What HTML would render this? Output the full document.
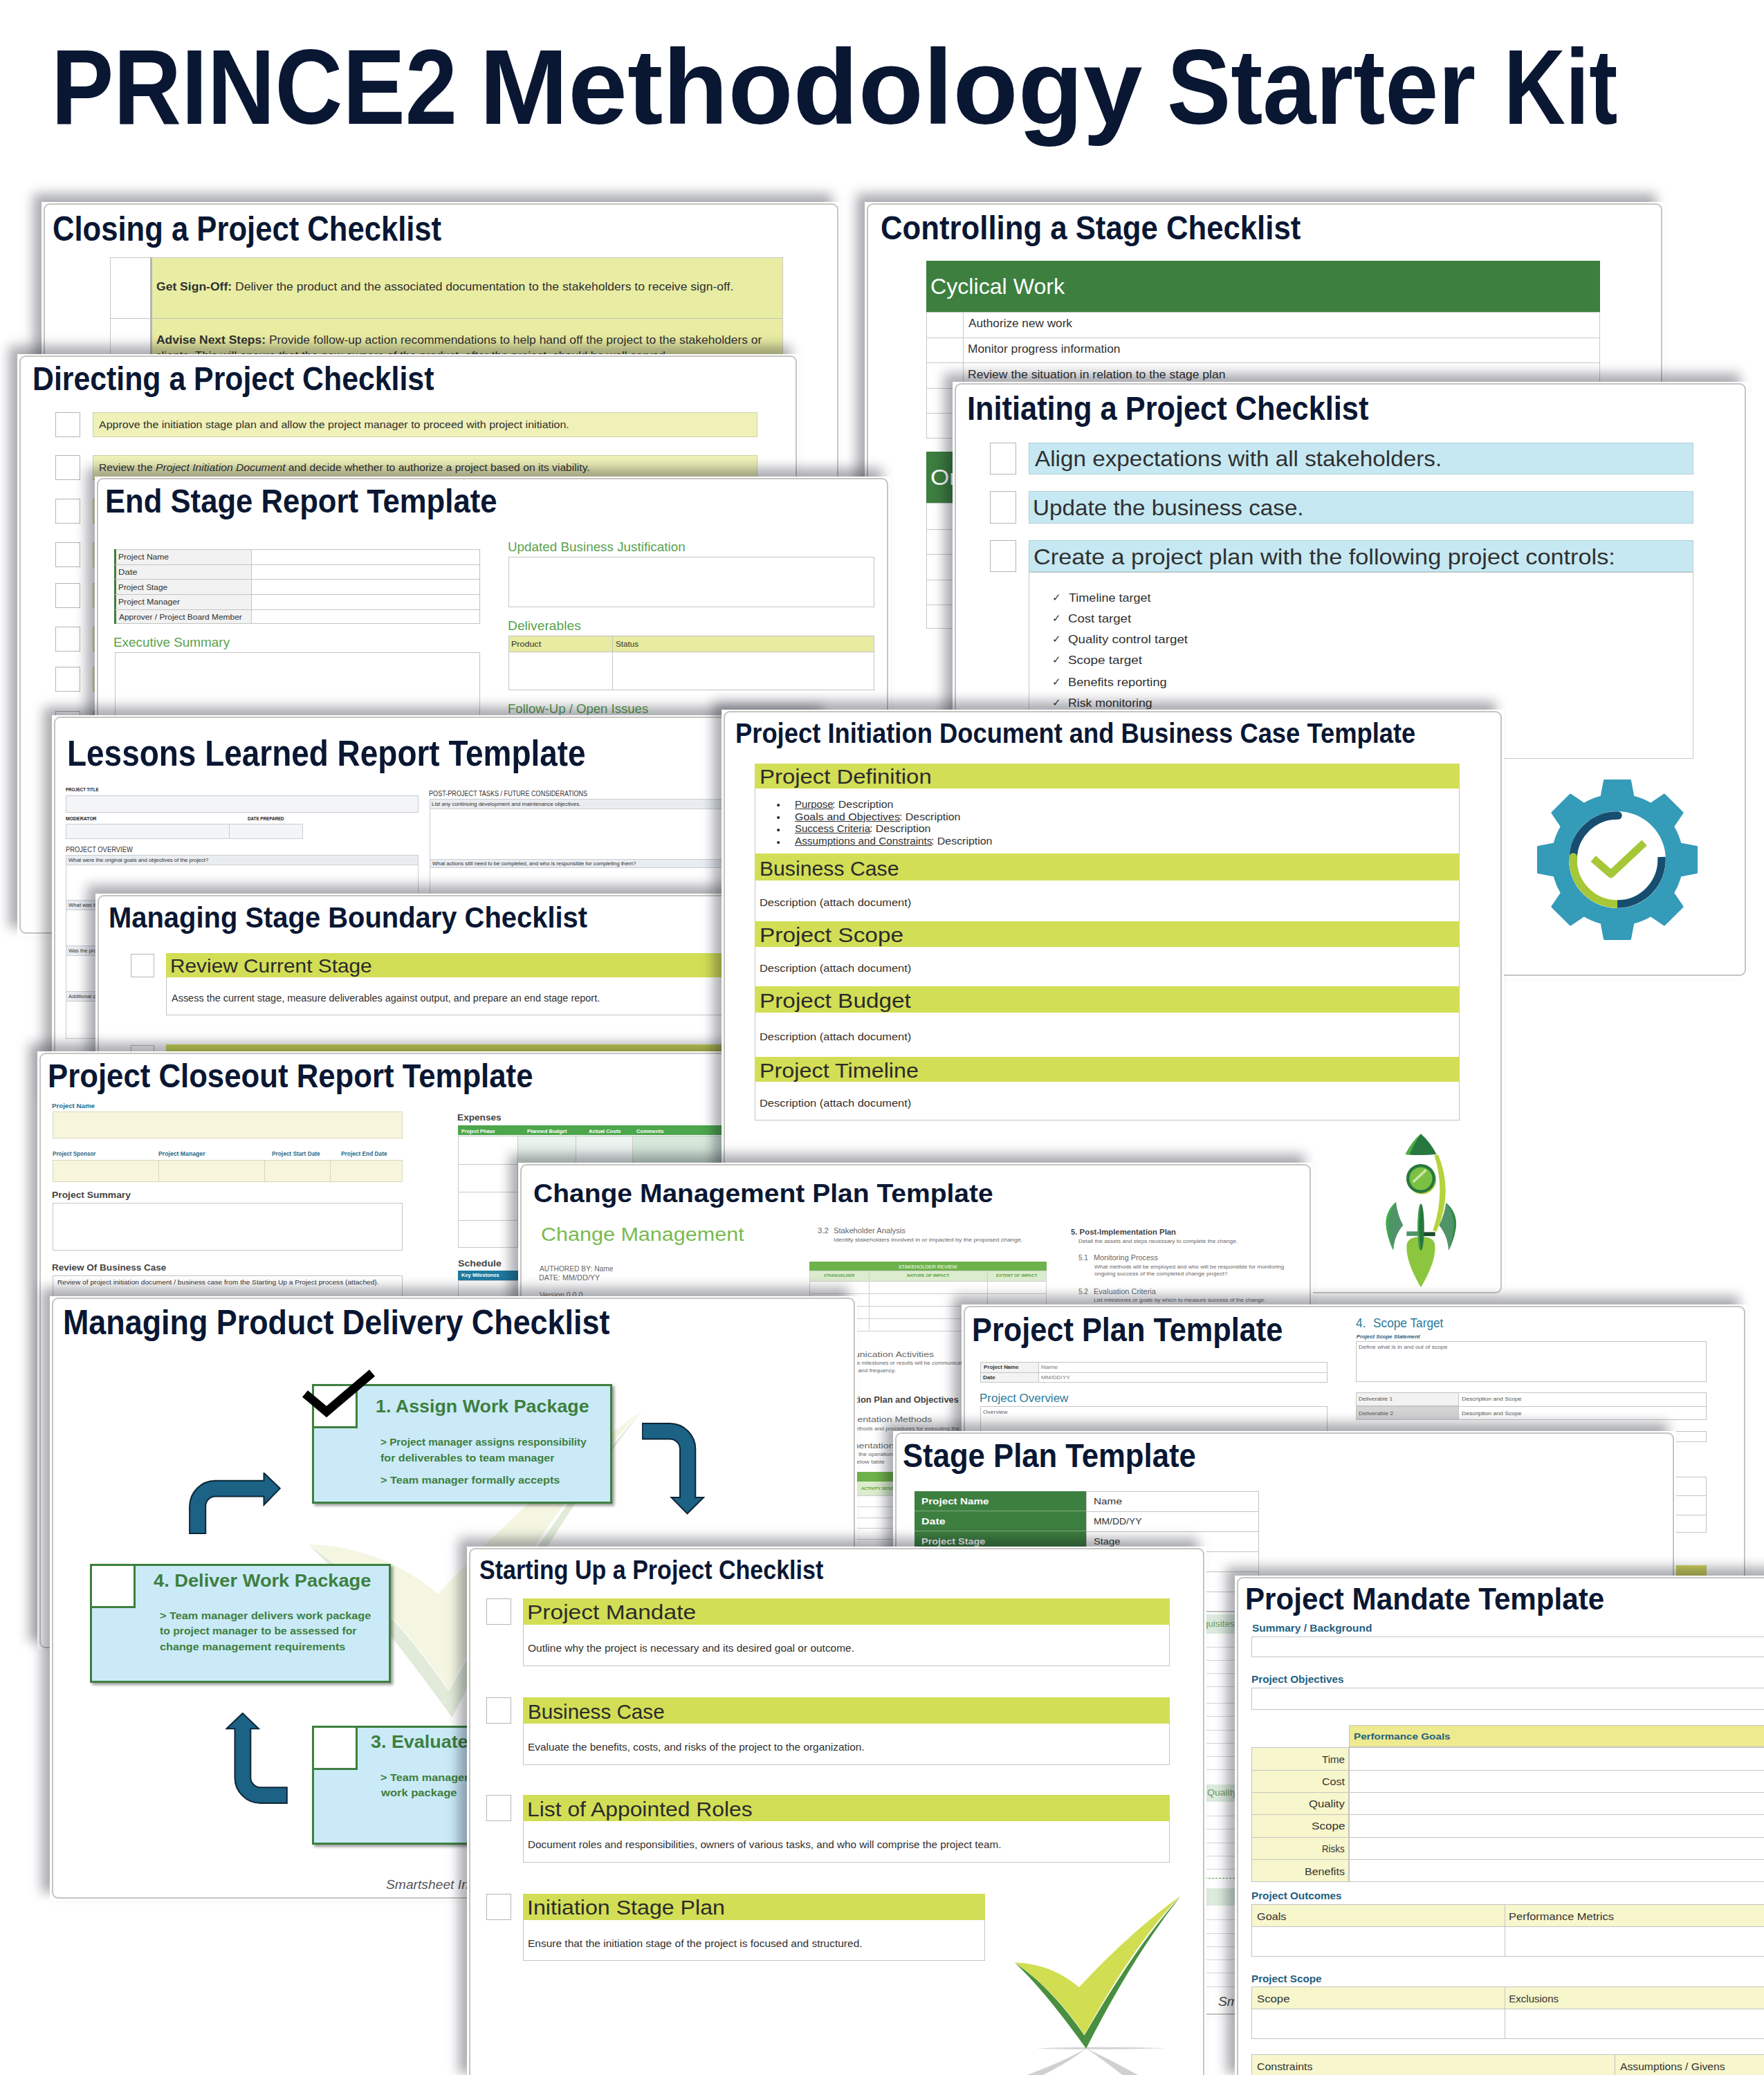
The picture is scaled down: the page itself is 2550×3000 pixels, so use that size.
<!DOCTYPE html><html><head><meta charset="utf-8"><title>PRINCE2 Methodology Starter Kit</title><style>
html,body{margin:0;padding:0;background:#fff}
body{width:2550px;height:3000px;font-family:"Liberation Sans",sans-serif}
#pg{position:relative;width:2550px;height:3000px;overflow:hidden;background:#fff}
.card{position:absolute;background:#fff;box-shadow:-12px -12px 16px rgba(12,14,28,.345)}
.card.ns{box-shadow:none}
.in{position:absolute;left:0;top:0;right:0;bottom:0;overflow:hidden}
.bd{position:absolute;left:3px;top:2px;right:3px;bottom:3px;border:2.6px solid #c6c4c0;border-radius:9px;pointer-events:none}
.r{position:absolute;box-sizing:border-box}
.t{position:absolute;white-space:nowrap;line-height:1;transform-origin:0 50%}
</style></head><body><div id="pg"><span class="t" style="top:48.6px;font-size:154.07px;color:#0a1733;font-weight:700;left:73.8px;transform:scaleX(0.8792);">PRINCE2</span>
<span class="t" style="top:48.6px;font-size:154.07px;color:#0a1733;font-weight:700;left:693.0px;">Methodology</span>
<span class="t" style="top:48.6px;font-size:154.07px;color:#0a1733;font-weight:700;left:1687.0px;transform:scaleX(0.8981);">Starter</span>
<span class="t" style="top:48.6px;font-size:154.07px;color:#0a1733;font-weight:700;left:2173.8px;transform:scaleX(0.8002);">Kit</span>
<div class="card " style="left:60px;top:292px;width:1155px;height:608px"><div class="in"><span class="t" style="top:14.0px;font-size:49.42px;color:#0a1733;font-weight:700;left:16.2px;transform:scaleX(0.8825);">Closing a Project Checklist</span>
<div class="r" style="left:99.0px;top:80.0px;width:59.0px;height:188.0px;background:#fff;border:1px solid #c6c6c6;"></div>
<div class="r" style="left:158.0px;top:80.0px;width:914.0px;height:188.0px;background:#e9eca3;border:1px solid #c6c6c6;"></div>
<div class="r" style="left:157.0px;top:80.0px;width:3.0px;height:188.0px;background:#b4b4b4;"></div>
<div class="r" style="left:99.0px;top:168.0px;width:973.0px;height:1.0px;background:#c2c2c2;"></div>
<span class="t" style="top:113.9px;font-size:16.20px;color:#303030;left:166.0px;transform:scaleX(1.0837);"><b>Get Sign-Off:</b> Deliver the product and the associated documentation to the stakeholders to receive sign-off.</span>
<span class="t" style="top:191.4px;font-size:16.20px;color:#303030;left:166.0px;transform:scaleX(1.0777);"><b>Advise Next Steps:</b> Provide follow-up action recommendations to help hand off the project to the stakeholders or</span>
<span class="t" style="top:213.9px;font-size:16.20px;color:#303030;left:165.3px;transform:scaleX(1.0451);">clients. This will ensure that the new owners of the product, after the project, should be well served.</span></div><div class="bd"></div></div>
<div class="card " style="left:1250px;top:292px;width:1155.5px;height:858px"><div class="in"><span class="t" style="top:12.6px;font-size:48.69px;color:#0a1733;font-weight:700;left:22.7px;transform:scaleX(0.8979);">Controlling a Stage Checklist</span>
<div class="r" style="left:89.0px;top:85.0px;width:974.0px;height:74.0px;background:#3d7f3f;"></div>
<span class="t" style="top:105.6px;font-size:31.98px;color:#fff;left:95.4px;transform:scaleX(1.0053);">Cyclical Work</span>
<div class="r" style="left:89.0px;top:159.0px;width:974.0px;height:182.5px;border:1px solid #c9c9c9;"></div>
<div class="r" style="left:89.0px;top:196.0px;width:974.0px;height:1.0px;background:#c9c9c9;"></div>
<div class="r" style="left:89.0px;top:232.0px;width:974.0px;height:1.0px;background:#c9c9c9;"></div>
<div class="r" style="left:89.0px;top:268.5px;width:974.0px;height:1.0px;background:#c9c9c9;"></div>
<div class="r" style="left:89.0px;top:305.0px;width:974.0px;height:1.0px;background:#c9c9c9;"></div>
<div class="r" style="left:142.0px;top:159.0px;width:1.0px;height:182.5px;background:#c9c9c9;"></div>
<span class="t" style="top:168.1px;font-size:16.60px;color:#303030;left:150.0px;transform:scaleX(1.0356);">Authorize new work</span>
<span class="t" style="top:205.1px;font-size:16.60px;color:#303030;left:148.6px;transform:scaleX(1.0438);">Monitor progress information</span>
<span class="t" style="top:241.6px;font-size:16.60px;color:#303030;left:148.6px;transform:scaleX(1.0569);">Review the situation in relation to the stage plan</span>
<span class="t" style="top:278.1px;font-size:16.60px;color:#303030;left:148.6px;transform:scaleX(1.0602);">Report highlights</span>
<span class="t" style="top:314.1px;font-size:16.60px;color:#303030;left:149.6px;transform:scaleX(1.0371);">Take corrective action</span>
<div class="r" style="left:89.0px;top:361.0px;width:974.0px;height:74.0px;background:#3d7f3f;"></div>
<span class="t" style="top:381.6px;font-size:31.98px;color:#fff;left:95.3px;transform:scaleX(1.1000);">Organized Work</span>
<div class="r" style="left:89.0px;top:435.0px;width:974.0px;height:182.0px;border:1px solid #c9c9c9;"></div>
<div class="r" style="left:89.0px;top:472.5px;width:974.0px;height:1.0px;background:#c9c9c9;"></div>
<div class="r" style="left:89.0px;top:509.0px;width:974.0px;height:1.0px;background:#c9c9c9;"></div>
<div class="r" style="left:89.0px;top:545.5px;width:974.0px;height:1.0px;background:#c9c9c9;"></div>
<div class="r" style="left:89.0px;top:581.5px;width:974.0px;height:1.0px;background:#c9c9c9;"></div>
<div class="r" style="left:142.0px;top:435.0px;width:1.0px;height:182.0px;background:#c9c9c9;"></div></div><div class="bd"></div></div>
<div class="card " style="left:25px;top:512px;width:1130px;height:840.7px"><div class="in"><span class="t" style="top:12.2px;font-size:47.97px;color:#0a1733;font-weight:700;left:21.6px;transform:scaleX(0.8923);">Directing a Project Checklist</span>
<div class="r" style="left:55.0px;top:84.0px;width:36.0px;height:36.0px;background:#fff;border:1px solid #b5b5b5;"></div>
<div class="r" style="left:109.0px;top:84.0px;width:961.0px;height:36.0px;background:#eff1b8;border:1px solid #cfd0a8;"></div>
<div class="r" style="left:55.0px;top:146.0px;width:36.0px;height:36.0px;background:#fff;border:1px solid #b5b5b5;"></div>
<div class="r" style="left:109.0px;top:146.0px;width:961.0px;height:36.0px;background:#eff1b8;border:1px solid #cfd0a8;"></div>
<div class="r" style="left:55.0px;top:209.0px;width:36.0px;height:36.0px;background:#fff;border:1px solid #b5b5b5;"></div>
<div class="r" style="left:109.0px;top:209.0px;width:961.0px;height:36.0px;background:#eff1b8;border:1px solid #cfd0a8;"></div>
<div class="r" style="left:55.0px;top:272.0px;width:36.0px;height:36.0px;background:#fff;border:1px solid #b5b5b5;"></div>
<div class="r" style="left:109.0px;top:272.0px;width:961.0px;height:36.0px;background:#eff1b8;border:1px solid #cfd0a8;"></div>
<div class="r" style="left:55.0px;top:331.0px;width:36.0px;height:36.0px;background:#fff;border:1px solid #b5b5b5;"></div>
<div class="r" style="left:109.0px;top:331.0px;width:961.0px;height:36.0px;background:#eff1b8;border:1px solid #cfd0a8;"></div>
<div class="r" style="left:55.0px;top:394.0px;width:36.0px;height:36.0px;background:#fff;border:1px solid #b5b5b5;"></div>
<div class="r" style="left:109.0px;top:394.0px;width:961.0px;height:36.0px;background:#eff1b8;border:1px solid #cfd0a8;"></div>
<div class="r" style="left:55.0px;top:452.0px;width:36.0px;height:36.0px;background:#fff;border:1px solid #b5b5b5;"></div>
<div class="r" style="left:109.0px;top:452.0px;width:961.0px;height:36.0px;background:#eff1b8;border:1px solid #cfd0a8;"></div>
<div class="r" style="left:55.0px;top:516.0px;width:36.0px;height:36.0px;background:#fff;border:1px solid #b5b5b5;"></div>
<div class="r" style="left:109.0px;top:516.0px;width:961.0px;height:36.0px;background:#eff1b8;border:1px solid #cfd0a8;"></div>
<span class="t" style="top:94.7px;font-size:14.60px;color:#303030;left:118.0px;transform:scaleX(1.0968);">Approve the initiation stage plan and allow the project manager to proceed with project initiation.</span>
<span class="t" style="top:157.1px;font-size:14.60px;color:#303030;left:118.0px;transform:scaleX(1.0752);">Review the <i>Project Initiation Document</i> and decide whether to authorize a project based on its viability.</span></div><div class="bd"></div></div>
<div class="card " style="left:1377px;top:551.5px;width:1150px;height:862.5px"><div class="in"><span class="t" style="top:15.3px;font-size:47.24px;color:#0a1733;font-weight:700;left:20.7px;transform:scaleX(0.9175);">Initiating a Project Checklist</span>
<div class="r" style="left:54.0px;top:88.5px;width:37.5px;height:46.0px;background:#fff;border:1px solid #b5b5b5;"></div>
<div class="r" style="left:110.0px;top:88.5px;width:961.0px;height:46.0px;background:#c5e8f2;border:1px solid #b3cfd6;"></div>
<div class="r" style="left:54.0px;top:158.5px;width:37.5px;height:47.0px;background:#fff;border:1px solid #b5b5b5;"></div>
<div class="r" style="left:110.0px;top:158.5px;width:961.0px;height:47.0px;background:#c5e8f2;border:1px solid #b3cfd6;"></div>
<div class="r" style="left:54.0px;top:229.5px;width:37.5px;height:46.0px;background:#fff;border:1px solid #b5b5b5;"></div>
<div class="r" style="left:110.0px;top:229.5px;width:961.0px;height:46.0px;background:#c5e8f2;border:1px solid #b3cfd6;"></div>
<span class="t" style="top:96.5px;font-size:31.69px;color:#303030;left:118.7px;transform:scaleX(1.0500);">Align expectations with all stakeholders.</span>
<span class="t" style="top:167.5px;font-size:31.69px;color:#303030;left:116.2px;transform:scaleX(1.0486);">Update the business case.</span>
<span class="t" style="top:238.4px;font-size:31.69px;color:#303030;left:117.1px;transform:scaleX(1.0826);">Create a project plan with the following project controls:</span>
<div class="r" style="left:110.0px;top:275.5px;width:961.0px;height:270.0px;border:1px solid #c9c9c9;"></div>
<span class="t" style="top:304.0px;font-size:15.00px;color:#303030;left:144.0px;">✓</span>
<span class="t" style="top:304.0px;font-size:17.00px;color:#303030;left:167.6px;transform:scaleX(1.0602);">Timeline target</span>
<span class="t" style="top:334.0px;font-size:15.00px;color:#303030;left:144.0px;">✓</span>
<span class="t" style="top:334.0px;font-size:17.00px;color:#303030;left:167.1px;transform:scaleX(1.0954);">Cost target</span>
<span class="t" style="top:364.0px;font-size:15.00px;color:#303030;left:144.0px;">✓</span>
<span class="t" style="top:364.0px;font-size:17.00px;color:#303030;left:167.1px;transform:scaleX(1.1031);">Quality control target</span>
<span class="t" style="top:394.5px;font-size:15.00px;color:#303030;left:144.0px;">✓</span>
<span class="t" style="top:394.5px;font-size:17.00px;color:#303030;left:167.1px;transform:scaleX(1.1099);">Scope target</span>
<span class="t" style="top:426.0px;font-size:15.00px;color:#303030;left:144.0px;">✓</span>
<span class="t" style="top:426.0px;font-size:17.00px;color:#303030;left:166.5px;transform:scaleX(1.0707);">Benefits reporting</span>
<span class="t" style="top:456.6px;font-size:15.00px;color:#303030;left:144.0px;">✓</span>
<span class="t" style="top:456.6px;font-size:17.00px;color:#303030;left:166.6px;transform:scaleX(1.0378);">Risk monitoring</span>
<svg class="r" style="left:831.0px;top:561.3px" width="260" height="260" viewBox="-130 -130 260 260"><path d="M-23.0 -91.0L-18.5 -114.5L18.5 -114.5L23.0 -91.0A92 92 0 0 1 48.1 -80.6L67.9 -94.0L94.0 -67.9L80.6 -48.1A92 92 0 0 1 91.0 -23.0L114.5 -18.5L114.5 18.5L91.0 23.0A92 92 0 0 1 80.6 48.1L94.0 67.9L67.9 94.0L48.1 80.6A92 92 0 0 1 23.0 91.0L18.5 114.5L-18.5 114.5L-23.0 91.0A92 92 0 0 1 -48.1 80.6L-67.9 94.0L-94.0 67.9L-80.6 48.1A92 92 0 0 1 -91.0 23.0L-114.5 18.5L-114.5 -18.5L-91.0 -23.0A92 92 0 0 1 -80.6 -48.1L-94.0 -67.9L-67.9 -94.0L-48.1 -80.6A92 92 0 0 1 -23.0 -91.0 Z" fill="#349bb8" stroke="#349bb8" stroke-width="3" stroke-linejoin="round"/><circle r="70" fill="#fff"/><path d="M1 -64A64 64 0 0 0 -64 0" fill="none" stroke="#174e70" stroke-width="11.5" stroke-linecap="round"/><path d="M0 64A64 64 0 0 0 63.9 -4" fill="none" stroke="#174e70" stroke-width="11.5"/><path d="M-63.9 -3A64 64 0 0 0 0 64" fill="none" stroke="#a6c737" stroke-width="11.5"/><circle cx="-63.8" cy="-4" r="5.75" fill="#a6c737"/><path d="M-34.8 -1.5L-9.4 20.7L39 -24.5" fill="none" stroke="#a6c737" stroke-width="11" stroke-linejoin="round"/></svg></div><div class="bd"></div></div>
<div class="card " style="left:137px;top:689px;width:1150px;height:511px"><div class="in"><span class="t" style="top:12.2px;font-size:47.97px;color:#0a1733;font-weight:700;left:15.1px;transform:scaleX(0.9095);">End Stage Report Template</span>
<div class="r" style="left:29.0px;top:105.0px;width:528.4px;height:108.2px;background:#fff;border:1px solid #c4c4c4;"></div>
<div class="r" style="left:29.0px;top:105.0px;width:198.0px;height:108.2px;background:#f1f2f1;border:1px solid #c4c4c4;"></div>
<div class="r" style="left:28.0px;top:105.0px;width:3.0px;height:108.2px;background:#3d7f3f;"></div>
<span class="t" style="top:110.4px;font-size:11.60px;color:#303030;left:34.4px;transform:scaleX(1.0406);">Project Name</span>
<div class="r" style="left:29.0px;top:126.6px;width:528.4px;height:1.0px;background:#c4c4c4;"></div>
<span class="t" style="top:132.0px;font-size:11.60px;color:#303030;left:34.3px;transform:scaleX(1.1286);">Date</span>
<div class="r" style="left:29.0px;top:148.3px;width:528.4px;height:1.0px;background:#c4c4c4;"></div>
<span class="t" style="top:153.6px;font-size:11.60px;color:#303030;left:34.4px;transform:scaleX(1.0209);">Project Stage</span>
<div class="r" style="left:29.0px;top:169.9px;width:528.4px;height:1.0px;background:#c4c4c4;"></div>
<span class="t" style="top:175.3px;font-size:11.60px;color:#303030;left:34.4px;transform:scaleX(1.0480);">Project Manager</span>
<div class="r" style="left:29.0px;top:191.6px;width:528.4px;height:1.0px;background:#c4c4c4;"></div>
<span class="t" style="top:196.9px;font-size:11.60px;color:#303030;left:35.4px;transform:scaleX(1.0297);">Approver / Project Board Member</span>
<span class="t" style="top:229.6px;font-size:19.00px;color:#5aa24c;left:27.4px;transform:scaleX(0.9949);">Executive Summary</span>
<div class="r" style="left:29.0px;top:253.6px;width:528.4px;height:177.4px;border:1px solid #c4c4c4;"></div>
<span class="t" style="top:92.4px;font-size:19.00px;color:#5aa24c;left:597.1px;transform:scaleX(0.9919);">Updated Business Justification</span>
<div class="r" style="left:598.0px;top:115.7px;width:529.0px;height:72.9px;border:1px solid #c4c4c4;"></div>
<span class="t" style="top:206.4px;font-size:19.00px;color:#5aa24c;left:597.0px;transform:scaleX(1.0117);">Deliverables</span>
<div class="r" style="left:598.0px;top:230.4px;width:529.0px;height:79.0px;border:1px solid #c4c4c4;"></div>
<div class="r" style="left:598.0px;top:230.4px;width:529.0px;height:23.2px;background:#e8eba0;border:1px solid #c4c4c4;"></div>
<div class="r" style="left:747.8px;top:230.4px;width:1.0px;height:79.0px;background:#c4c4c4;"></div>
<span class="t" style="top:236.6px;font-size:10.80px;color:#303030;left:602.0px;transform:scaleX(1.1584);">Product</span>
<span class="t" style="top:236.6px;font-size:10.80px;color:#303030;left:752.5px;transform:scaleX(1.0761);">Status</span>
<span class="t" style="top:325.8px;font-size:19.00px;color:#5aa24c;left:597.1px;transform:scaleX(0.9767);">Follow-Up / Open Issues</span>
<div class="r" style="left:598.0px;top:351.0px;width:529.0px;height:80.0px;border:1px solid #c4c4c4;"></div></div><div class="bd"></div></div>
<div class="card " style="left:75px;top:1034px;width:1125px;height:566px"><div class="in"><span class="t" style="top:28.5px;font-size:52.33px;color:#0a1733;font-weight:700;left:21.9px;transform:scaleX(0.8779);">Lessons Learned Report Template</span>
<span class="t" style="top:105.1px;font-size:6.60px;color:#222;font-weight:700;left:20.0px;transform:scaleX(0.9281);">PROJECT TITLE</span>
<div class="r" style="left:20.0px;top:115.7px;width:510.0px;height:25.3px;background:#f3f5f7;border:1px solid #c9cdd2;"></div>
<span class="t" style="top:147.0px;font-size:6.60px;color:#222;font-weight:700;left:19.9px;transform:scaleX(1.0456);">MODERATOR</span>
<span class="t" style="top:147.0px;font-size:6.60px;color:#222;font-weight:700;left:283.2px;transform:scaleX(0.9493);">DATE PREPARED</span>
<div class="r" style="left:20.0px;top:157.0px;width:236.5px;height:21.7px;background:#f3f5f7;border:1px solid #c9cdd2;"></div>
<div class="r" style="left:255.5px;top:157.0px;width:107.5px;height:21.7px;background:#f3f5f7;border:1px solid #c9cdd2;"></div>
<span class="t" style="top:189.5px;font-size:10.00px;color:#333;left:19.6px;transform:scaleX(0.9400);">PROJECT OVERVIEW</span>
<div class="r" style="left:20.0px;top:201.7px;width:510.0px;height:266.3px;border:1px solid #c9cdd2;"></div>
<div class="r" style="left:20.0px;top:201.7px;width:510.0px;height:15.0px;background:#e9edf1;border:1px solid #c9cdd2;"></div>
<span class="t" style="top:206.0px;font-size:7.00px;color:#303030;left:24.0px;transform:scaleX(1.1158);">What were the original goals and objectives of the project?</span>
<div class="r" style="left:20.0px;top:267.0px;width:510.0px;height:15.0px;background:#e9edf1;border:1px solid #c9cdd2;"></div>
<span class="t" style="top:271.3px;font-size:7.00px;color:#303030;left:24.0px;transform:scaleX(1.1055);">What was the original criteria for project success?</span>
<div class="r" style="left:20.0px;top:333.0px;width:510.0px;height:15.0px;background:#e9edf1;border:1px solid #c9cdd2;"></div>
<span class="t" style="top:337.3px;font-size:7.00px;color:#303030;left:24.0px;transform:scaleX(1.0798);">Was the project completed according to the original expectations?</span>
<div class="r" style="left:20.0px;top:399.0px;width:510.0px;height:15.0px;background:#e9edf1;border:1px solid #c9cdd2;"></div>
<span class="t" style="top:403.3px;font-size:7.00px;color:#303030;left:24.0px;transform:scaleX(1.0817);">Additional comments</span>
<span class="t" style="top:108.5px;font-size:10.00px;color:#333;left:544.8px;transform:scaleX(0.9091);">POST-PROJECT TASKS / FUTURE CONSIDERATIONS</span>
<div class="r" style="left:545.5px;top:120.7px;width:509.5px;height:175.3px;border:1px solid #c9cdd2;"></div>
<div class="r" style="left:545.5px;top:120.7px;width:509.5px;height:14.9px;background:#e9edf1;border:1px solid #c9cdd2;"></div>
<span class="t" style="top:125.1px;font-size:7.00px;color:#303030;left:549.4px;transform:scaleX(1.1295);">List any continuing development and maintenance objectives.</span>
<div class="r" style="left:545.5px;top:207.5px;width:509.5px;height:13.5px;background:#e9edf1;border:1px solid #c9cdd2;"></div>
<span class="t" style="top:211.1px;font-size:7.00px;color:#303030;left:550.0px;transform:scaleX(1.1140);">What actions still need to be completed, and who is responsible for completing them?</span></div><div class="bd"></div></div>
<div class="card " style="left:137.5px;top:1292px;width:1062.5px;height:308px"><div class="in"><span class="t" style="top:13.9px;font-size:42.44px;color:#0a1733;font-weight:700;left:19.8px;transform:scaleX(0.9407);">Managing Stage Boundary Checklist</span>
<div class="r" style="left:51.5px;top:86.5px;width:33.6px;height:34.3px;background:#fff;border:1px solid #b5b5b5;"></div>
<div class="r" style="left:102.0px;top:86.0px;width:920.5px;height:89.7px;border:1px solid #c4c4c4;"></div>
<div class="r" style="left:102.0px;top:86.0px;width:920.5px;height:34.8px;background:#d2de55;"></div>
<span class="t" style="top:91.1px;font-size:28.05px;color:#2b2b2b;left:108.5px;transform:scaleX(1.0632);">Review Current Stage</span>
<span class="t" style="top:144.7px;font-size:13.80px;color:#303030;left:110.5px;transform:scaleX(1.0485);">Assess the current stage, measure deliverables against output, and prepare an end stage report.</span>
<div class="r" style="left:51.5px;top:218.5px;width:33.6px;height:34.5px;background:#fff;border:1px solid #b5b5b5;"></div>
<div class="r" style="left:102.0px;top:218.0px;width:920.5px;height:35.0px;background:#d2de55;"></div></div><div class="bd"></div></div>
<div class="card " style="left:53.5px;top:1519.5px;width:1146.5px;height:866.5px"><div class="in"><span class="t" style="top:12.7px;font-size:47.97px;color:#0a1733;font-weight:700;left:15.3px;transform:scaleX(0.9117);">Project Closeout Report Template</span>
<span class="t" style="top:75.9px;font-size:9.20px;color:#1f6b8c;font-weight:700;left:21.9px;transform:scaleX(1.0540);">Project Name</span>
<div class="r" style="left:22.0px;top:87.1px;width:506.5px;height:39.9px;background:#f7f6dc;border:1px solid #d8d7b8;"></div>
<span class="t" style="top:144.6px;font-size:8.40px;color:#1f6b8c;font-weight:700;left:22.0px;transform:scaleX(0.9659);">Project Sponsor</span>
<span class="t" style="top:144.6px;font-size:8.40px;color:#1f6b8c;font-weight:700;left:175.9px;transform:scaleX(1.0361);">Project Manager</span>
<span class="t" style="top:144.6px;font-size:8.40px;color:#1f6b8c;font-weight:700;left:339.9px;transform:scaleX(0.9908);">Project Start Date</span>
<span class="t" style="top:144.6px;font-size:8.40px;color:#1f6b8c;font-weight:700;left:439.9px;transform:scaleX(0.9944);">Project End Date</span>
<div class="r" style="left:22.0px;top:157.0px;width:506.5px;height:32.5px;background:#f7f6dc;border:1px solid #d8d7b8;"></div>
<div class="r" style="left:175.5px;top:157.0px;width:1.0px;height:32.5px;background:#d8d7b8;"></div>
<div class="r" style="left:328.5px;top:157.0px;width:1.0px;height:32.5px;background:#d8d7b8;"></div>
<div class="r" style="left:423.5px;top:157.0px;width:1.0px;height:32.5px;background:#d8d7b8;"></div>
<span class="t" style="top:201.7px;font-size:13.60px;color:#444;font-weight:700;left:21.6px;transform:scaleX(1.0190);">Project Summary</span>
<div class="r" style="left:22.0px;top:219.5px;width:506.5px;height:68.5px;background:#fff;border:1px solid #c4c4c4;"></div>
<span class="t" style="top:306.7px;font-size:13.60px;color:#444;font-weight:700;left:21.6px;transform:scaleX(0.9944);">Review Of Business Case</span>
<div class="r" style="left:22.0px;top:324.1px;width:506.5px;height:56.4px;background:#fff;border:1px solid #c4c4c4;"></div>
<span class="t" style="top:330.8px;font-size:9.30px;color:#333;left:29.7px;transform:scaleX(1.0924);">Review of project initiation document / business case from the Starting Up a Project process (attached).</span>
<span class="t" style="top:89.7px;font-size:13.60px;color:#444;font-weight:700;left:607.6px;">Expenses</span>
<div class="r" style="left:694.5px;top:122.5px;width:84.0px;height:162.0px;background:#eaf3ec;"></div>
<div class="r" style="left:778.5px;top:122.5px;width:82.0px;height:162.0px;background:#eef4f0;"></div>
<div class="r" style="left:860.5px;top:122.5px;width:186.0px;height:162.0px;background:#d6e9da;"></div>
<div class="r" style="left:608.5px;top:107.8px;width:438.0px;height:14.0px;background:#4ca64c;"></div>
<span class="t" style="top:112.1px;font-size:7.40px;color:#fff;font-weight:700;left:613.0px;transform:scaleX(0.9959);">Project Phase</span>
<span class="t" style="top:112.1px;font-size:7.40px;color:#fff;font-weight:700;left:708.0px;transform:scaleX(1.0226);">Planned Budget</span>
<span class="t" style="top:112.1px;font-size:7.40px;color:#fff;font-weight:700;left:797.3px;transform:scaleX(1.0281);">Actual Costs</span>
<span class="t" style="top:112.1px;font-size:7.40px;color:#fff;font-weight:700;left:866.2px;transform:scaleX(1.0363);">Comments</span>
<div class="r" style="left:608.5px;top:122.5px;width:438.0px;height:162.0px;border:1px solid #c9c9c9;"></div>
<div class="r" style="left:694.5px;top:122.5px;width:1.0px;height:162.0px;background:#c9c9c9;"></div>
<div class="r" style="left:778.5px;top:122.5px;width:1.0px;height:162.0px;background:#c9c9c9;"></div>
<div class="r" style="left:860.5px;top:122.5px;width:1.0px;height:162.0px;background:#c9c9c9;"></div>
<div class="r" style="left:608.5px;top:163.1px;width:438.0px;height:1.0px;background:#c9c9c9;"></div>
<div class="r" style="left:608.5px;top:203.7px;width:438.0px;height:1.0px;background:#c9c9c9;"></div>
<div class="r" style="left:608.5px;top:244.3px;width:438.0px;height:1.0px;background:#c9c9c9;"></div>
<span class="t" style="top:300.7px;font-size:13.60px;color:#444;font-weight:700;left:608.1px;transform:scaleX(1.0401);">Schedule</span>
<div class="r" style="left:608.5px;top:317.5px;width:438.0px;height:13.6px;background:#1f7aa0;"></div>
<span class="t" style="top:320.8px;font-size:7.40px;color:#fff;font-weight:700;left:613.0px;transform:scaleX(1.0174);">Key Milestones</span>
<div class="r" style="left:608.5px;top:331.1px;width:438.0px;height:49.4px;border:1px solid #c9c9c9;"></div></div><div class="bd"></div></div>
<div class="card " style="left:1042.5px;top:1025.5px;width:1131px;height:847.1px"><div class="in"><span class="t" style="top:14.4px;font-size:40.70px;color:#0a1733;font-weight:700;left:20.6px;transform:scaleX(0.8937);">Project Initiation Document and Business Case Template</span>
<div class="r" style="left:48.5px;top:78.2px;width:1019.0px;height:516.3px;border:1px solid #c4c4c4;"></div>
<div class="r" style="left:48.5px;top:78.2px;width:1019.0px;height:36.1px;background:#d2de55;"></div>
<span class="t" style="top:82.3px;font-size:30.23px;color:#2b2b2b;left:55.2px;transform:scaleX(1.0888);">Project Definition</span>
<div class="r" style="left:48.5px;top:208.5px;width:1019.0px;height:39.0px;background:#d2de55;"></div>
<span class="t" style="top:215.5px;font-size:30.23px;color:#2b2b2b;left:55.4px;">Business Case</span>
<div class="r" style="left:48.5px;top:306.9px;width:1019.0px;height:36.2px;background:#d2de55;"></div>
<span class="t" style="top:311.1px;font-size:30.23px;color:#2b2b2b;left:55.2px;transform:scaleX(1.1063);">Project Scope</span>
<div class="r" style="left:48.5px;top:400.5px;width:1019.0px;height:38.0px;background:#d2de55;"></div>
<span class="t" style="top:406.5px;font-size:30.23px;color:#2b2b2b;left:55.2px;transform:scaleX(1.1042);">Project Budget</span>
<div class="r" style="left:48.5px;top:502.9px;width:1019.0px;height:36.1px;background:#d2de55;"></div>
<span class="t" style="top:507.0px;font-size:30.23px;color:#2b2b2b;left:55.2px;transform:scaleX(1.0698);">Project Timeline</span>
<span class="t" style="top:272.8px;font-size:14.80px;color:#303030;left:55.2px;transform:scaleX(1.1111);">Description (attach document)</span>
<span class="t" style="top:367.5px;font-size:14.80px;color:#303030;left:55.2px;transform:scaleX(1.1111);">Description (attach document)</span>
<span class="t" style="top:466.1px;font-size:14.80px;color:#303030;left:55.2px;transform:scaleX(1.1111);">Description (attach document)</span>
<span class="t" style="top:562.5px;font-size:14.80px;color:#303030;left:55.2px;transform:scaleX(1.1111);">Description (attach document)</span>
<span class="t" style="top:130.5px;font-size:15.00px;color:#303030;left:79.9px;">•</span>
<span class="t" style="top:130.1px;font-size:14.80px;color:#303030;left:106.5px;transform:scaleX(1.0068);"><u>Purpose</u></span>
<span class="t" style="top:130.1px;font-size:14.80px;color:#303030;left:160.5px;transform:scaleX(1.0758);">: Description</span>
<span class="t" style="top:148.5px;font-size:15.00px;color:#303030;left:79.9px;">•</span>
<span class="t" style="top:148.1px;font-size:14.80px;color:#303030;left:106.5px;transform:scaleX(1.0805);"><u>Goals and Objectives</u></span>
<span class="t" style="top:148.1px;font-size:14.80px;color:#303030;left:257.0px;transform:scaleX(1.0758);">: Description</span>
<span class="t" style="top:166.2px;font-size:15.00px;color:#303030;left:79.9px;">•</span>
<span class="t" style="top:165.8px;font-size:14.80px;color:#303030;left:106.5px;transform:scaleX(1.0117);"><u>Success Criteria</u></span>
<span class="t" style="top:165.8px;font-size:14.80px;color:#303030;left:214.0px;transform:scaleX(1.0758);">: Description</span>
<span class="t" style="top:184.2px;font-size:15.00px;color:#303030;left:79.9px;">•</span>
<span class="t" style="top:183.8px;font-size:14.80px;color:#303030;left:106.5px;transform:scaleX(1.0312);"><u>Assumptions and Constraints</u></span>
<span class="t" style="top:183.8px;font-size:14.80px;color:#303030;left:303.5px;transform:scaleX(1.0758);">: Description</span>
<svg class="r" style="left:917.5px;top:594.5px" width="200" height="260" viewBox="0 0 1596 2075"><path d="M905 400L950 395Q1130 830 930 1282L888 1268Q1040 830 905 400Z" fill="#b5d33d"/><path d="M750 153Q860 250 930 390Q750 410 572 390Q640 250 750 153Z" fill="#27783f"/><path d="M750 153Q680 250 618 395L572 390Q640 250 750 153Z" fill="#4cae45"/><circle cx="762" cy="685" r="165" fill="#b5d33d"/><circle cx="750" cy="670" r="150" fill="#7ac143" stroke="#27783f" stroke-width="36"/><path d="M650 700L800 560L820 580L670 720Z" fill="#cfe6a8"/><path d="M462 940Q330 1060 350 1230Q370 1370 432 1500Q440 1330 545 1210Q480 1090 462 940Z" fill="#4f9468"/><path d="M462 940Q330 1060 350 1230Q370 1370 432 1500Q380 1370 375 1230Q370 1080 462 940Z" fill="#3fae49"/><path d="M1040 950Q1170 1060 1155 1230Q1135 1370 1070 1500Q1060 1330 960 1210Q1020 1090 1040 950Z" fill="#4f9468"/><path d="M1040 950Q1170 1060 1155 1230Q1135 1370 1070 1500Q1120 1370 1128 1230Q1135 1080 1040 950Z" fill="#2e8b45"/><path d="M750 1925Q560 1600 590 1420Q610 1340 750 1340Q890 1340 910 1420Q940 1600 750 1925Z" fill="#8cc63f"/><rect x="585" y="1280" width="165" height="52" fill="#4f9468"/><rect x="750" y="1288" width="165" height="46" fill="#1d4a2b"/><ellipse cx="750" cy="1230" rx="38" ry="270" fill="#27783f"/><path d="M750 960Q700 1230 750 1500Q715 1400 712 1230Q715 1060 750 960Z" fill="#4cb050"/></svg></div><div class="bd"></div></div>
<div class="card " style="left:748.7px;top:1681px;width:1149.3px;height:619px"><div class="in"><span class="t" style="top:25.8px;font-size:37.79px;color:#0a1733;font-weight:700;left:22.2px;transform:scaleX(1.0325);">Change Management Plan Template</span>
<span class="t" style="top:89.0px;font-size:28.34px;color:#79ba50;left:33.3px;transform:scaleX(1.0777);">Change Management</span>
<span class="t" style="top:148.1px;font-size:11.00px;color:#666;left:31.3px;transform:scaleX(0.9315);">AUTHORED BY: Name</span>
<span class="t" style="top:160.5px;font-size:11.00px;color:#666;left:30.4px;transform:scaleX(0.9832);">DATE: MM/DD/YY</span>
<span class="t" style="top:185.5px;font-size:11.00px;color:#666;left:31.3px;transform:scaleX(0.9728);">Version 0.0.0</span>
<span class="t" style="top:92.7px;font-size:10.50px;color:#666;left:432.9px;transform:scaleX(1.0974);">3.2</span>
<span class="t" style="top:92.7px;font-size:10.50px;color:#666;left:456.8px;transform:scaleX(1.0660);">Stakeholder Analysis</span>
<span class="t" style="top:108.3px;font-size:7.40px;color:#666;left:456.5px;transform:scaleX(1.1941);">Identify stakeholders involved in or impacted by the proposed change.</span>
<div class="r" style="left:421.8px;top:143.0px;width:342.5px;height:13.0px;background:#6db24a;"></div>
<span class="t" style="top:146.5px;font-size:7.00px;color:#fff;left:550.0px;transform:scaleX(1.0393);">STAKEHOLDER REVIEW</span>
<div class="r" style="left:421.8px;top:156.0px;width:342.5px;height:14.7px;background:#dcecce;"></div>
<span class="t" style="top:160.9px;font-size:5.80px;color:#5aa13c;font-weight:700;left:442.7px;transform:scaleX(1.0131);">STAKEHOLDER</span>
<span class="t" style="top:160.9px;font-size:5.80px;color:#5aa13c;font-weight:700;left:561.9px;transform:scaleX(1.0822);">NATURE OF IMPACT</span>
<span class="t" style="top:160.9px;font-size:5.80px;color:#5aa13c;font-weight:700;left:690.9px;transform:scaleX(1.0629);">EXTENT OF IMPACT</span>
<div class="r" style="left:421.8px;top:156.0px;width:342.5px;height:87.5px;border:1px solid #cfcfcf;"></div>
<div class="r" style="left:507.1px;top:156.0px;width:1.0px;height:87.5px;background:#cfcfcf;"></div>
<div class="r" style="left:678.0px;top:156.0px;width:1.0px;height:87.5px;background:#cfcfcf;"></div>
<div class="r" style="left:421.8px;top:170.7px;width:342.5px;height:1.0px;background:#cfcfcf;"></div>
<div class="r" style="left:421.8px;top:188.6px;width:342.5px;height:1.0px;background:#cfcfcf;"></div>
<div class="r" style="left:421.8px;top:207.0px;width:342.5px;height:1.0px;background:#cfcfcf;"></div>
<div class="r" style="left:421.8px;top:225.0px;width:342.5px;height:1.0px;background:#cfcfcf;"></div>
<span class="t" style="top:94.5px;font-size:11.00px;color:#444;font-weight:700;left:799.4px;transform:scaleX(1.0322);">5. Post-Implementation Plan</span>
<span class="t" style="top:110.0px;font-size:7.20px;color:#666;left:810.4px;transform:scaleX(1.1515);">Detail the assets and steps necessary to complete the change.</span>
<span class="t" style="top:132.4px;font-size:10.50px;color:#666;left:810.7px;transform:scaleX(0.9514);">5.1</span>
<span class="t" style="top:132.4px;font-size:10.50px;color:#666;left:832.4px;transform:scaleX(1.0335);">Monitoring Process</span>
<span class="t" style="top:147.4px;font-size:7.20px;color:#666;left:833.3px;transform:scaleX(1.1550);">What methods will be employed and who will be responsible for monitoring</span>
<span class="t" style="top:157.4px;font-size:7.20px;color:#666;left:832.9px;transform:scaleX(1.1886);">ongoing success of the completed change project?</span>
<span class="t" style="top:180.7px;font-size:10.50px;color:#666;left:810.7px;transform:scaleX(0.9525);">5.2</span>
<span class="t" style="top:180.7px;font-size:10.50px;color:#666;left:832.4px;transform:scaleX(1.0479);">Evaluation Criteria</span>
<span class="t" style="top:195.0px;font-size:7.20px;color:#666;left:832.6px;transform:scaleX(1.1370);">List milestones or goals by which to measure success of the change.</span>
<span class="t" style="top:271.5px;font-size:11.00px;color:#666;left:421.5px;transform:scaleX(1.2801);">4.1   Communication Activities</span>
<span class="t" style="top:286.3px;font-size:7.40px;color:#666;left:445.1px;transform:scaleX(1.0994);">Describe how milestones or results will be communicated</span>
<span class="t" style="top:297.3px;font-size:7.40px;color:#666;left:445.4px;transform:scaleX(1.1292);">and method and frequency.</span>
<span class="t" style="top:336.6px;font-size:12.00px;color:#444;font-weight:700;left:401.4px;transform:scaleX(1.0753);">5. Implementation Plan and Objectives</span>
<span class="t" style="top:365.5px;font-size:11.00px;color:#666;left:421.2px;transform:scaleX(1.2771);">5.1   Implementation Methods</span>
<span class="t" style="top:381.3px;font-size:7.40px;color:#666;left:445.1px;transform:scaleX(1.1364);">Describe methods and procedures for executing the</span>
<span class="t" style="top:403.5px;font-size:11.00px;color:#666;left:421.2px;transform:scaleX(1.3132);">5.2   Implementation Activities</span>
<span class="t" style="top:418.3px;font-size:7.40px;color:#666;left:445.1px;transform:scaleX(1.1473);">Break down the operations</span>
<span class="t" style="top:429.3px;font-size:7.40px;color:#666;left:445.2px;transform:scaleX(1.2223);">using the below table</span>
<div class="r" style="left:421.8px;top:447.0px;width:342.5px;height:13.5px;background:#6db24a;"></div>
<div class="r" style="left:421.8px;top:460.5px;width:342.5px;height:20.2px;background:#dcecce;"></div>
<span class="t" style="top:467.9px;font-size:6.20px;color:#5aa13c;font-weight:700;left:496.1px;transform:scaleX(1.0048);">ACTIVITY DESCRIPTION</span>
<div class="r" style="left:421.8px;top:480.7px;width:342.5px;height:1.0px;background:#cfcfcf;"></div>
<div class="r" style="left:421.8px;top:497.0px;width:342.5px;height:1.0px;background:#cfcfcf;"></div>
<div class="r" style="left:421.8px;top:512.5px;width:342.5px;height:1.0px;background:#cfcfcf;"></div>
<div class="r" style="left:421.8px;top:528.0px;width:342.5px;height:1.0px;background:#cfcfcf;"></div>
<div class="r" style="left:421.8px;top:543.5px;width:342.5px;height:1.0px;background:#cfcfcf;"></div></div><div class="bd"></div></div>
<div class="card " style="left:72px;top:1874px;width:1166.5px;height:874px"><div class="in"><span class="t" style="top:13.0px;font-size:49.42px;color:#0a1733;font-weight:700;left:19.0px;transform:scaleX(0.9081);">Managing Product Delivery Checklist</span>
<svg class="r" style="left:319.5px;top:122.8px" width="603.0" height="582.8" viewBox="0 0 1764 1705"><path d="M155 690Q405 920 765 1422Q1155 650 1570 123Q1180 560 750 1310Q470 900 155 690Z" fill="#e2ebd9"/><path d="M160 690Q470 700 705 900Q1130 440 1567 124Q1180 520 750 1305Q500 930 160 690Z" fill="#f4f6e2"/></svg>
<div class="r" style="left:379.4px;top:126.5px;width:433.6px;height:173.5px;background:#cbeaf7;border:3.5px solid #3d7f3f;box-shadow:3px 3px 4px rgba(0,0,0,.4);"></div>
<div class="r" style="left:379.4px;top:126.5px;width:66.0px;height:64.0px;background:#fff;border:3.5px solid #3d7f3f;"></div>
<div class="r" style="left:58.3px;top:386.5px;width:435.2px;height:172.5px;background:#cbeaf7;border:3.5px solid #3d7f3f;box-shadow:3px 3px 4px rgba(0,0,0,.4);"></div>
<div class="r" style="left:58.3px;top:386.5px;width:66.0px;height:64.0px;background:#fff;border:3.5px solid #3d7f3f;"></div>
<div class="r" style="left:379.4px;top:620.5px;width:433.6px;height:172.0px;background:#cbeaf7;border:3.5px solid #3d7f3f;box-shadow:3px 3px 4px rgba(0,0,0,.4);"></div>
<div class="r" style="left:379.4px;top:620.5px;width:66.0px;height:64.0px;background:#fff;border:3.5px solid #3d7f3f;"></div>
<span class="t" style="top:146.2px;font-size:26.50px;color:#3d7f3f;font-weight:700;left:470.9px;transform:scaleX(1.0122);">1. Assign Work Package</span>
<span class="t" style="top:202.7px;font-size:15.50px;color:#3d7f3f;font-weight:700;left:478.1px;transform:scaleX(0.9860);">&gt; Project manager assigns responsibility</span>
<span class="t" style="top:225.8px;font-size:15.50px;color:#3d7f3f;font-weight:700;left:478.4px;transform:scaleX(1.0353);">for deliverables to team manager</span>
<span class="t" style="top:258.2px;font-size:15.50px;color:#3d7f3f;font-weight:700;left:478.0px;transform:scaleX(1.0446);">&gt; Team manager formally accepts</span>
<span class="t" style="top:398.2px;font-size:26.50px;color:#3d7f3f;font-weight:700;left:150.4px;transform:scaleX(1.0276);">4. Deliver Work Package</span>
<span class="t" style="top:453.7px;font-size:15.50px;color:#3d7f3f;font-weight:700;left:158.9px;transform:scaleX(1.0476);">&gt; Team manager delivers work package</span>
<span class="t" style="top:476.2px;font-size:15.50px;color:#3d7f3f;font-weight:700;left:159.4px;transform:scaleX(1.0160);">to project manager to be assessed for</span>
<span class="t" style="top:498.6px;font-size:15.50px;color:#3d7f3f;font-weight:700;left:159.0px;transform:scaleX(1.0452);">change management requirements</span>
<span class="t" style="top:630.7px;font-size:26.50px;color:#3d7f3f;font-weight:700;left:464.4px;transform:scaleX(1.0153);">3. Evaluate Work Package</span>
<span class="t" style="top:687.7px;font-size:15.50px;color:#3d7f3f;font-weight:700;left:478.0px;transform:scaleX(1.0479);">&gt; Team manager evaluates completed</span>
<span class="t" style="top:710.2px;font-size:15.50px;color:#3d7f3f;font-weight:700;left:478.7px;transform:scaleX(1.0682);">work package</span>
<svg class="r" style="left:363.0px;top:104.0px" width="120" height="90" viewBox="0 0 120 90"><path d="M6 37L37 63L103 7" fill="none" stroke="#000" stroke-width="12.5"/></svg>
<svg class="r" style="left:200.5px;top:255.0px" width="133" height="89" viewBox="0 0 133 89"><path d="M1.1 88V49A37.2 37.2 0 0 1 38.3 11.8H108.5V0.5L131.7 22.9L108.5 46.8V34.6H38.3A14.1 14.1 0 0 0 24.2 49V88Z" fill="#1b6285" stroke="#0c2638" stroke-width="2" stroke-linejoin="miter"/></svg>
<svg class="r" style="left:855.5px;top:182.5px" width="91" height="133" viewBox="0 0 91 133"><path d="M0.5 1.1H40.3A37 37 0 0 1 77.3 38.1V108.1H88.9L65.5 131.3L42.5 108.1H55V38.1A14.7 14.7 0 0 0 40.3 23.4H0.5Z" fill="#1b6285" stroke="#0c2638" stroke-width="2" stroke-linejoin="miter"/></svg>
<svg class="r" style="left:253.5px;top:602.0px" width="91" height="132" viewBox="0 0 91 132"><path d="M88.8 131H50.5A37 37 0 0 1 13.5 94V23.3H1.5L24.7 1L47.9 23.3H36.3V94A14.2 14.2 0 0 0 50.5 108.2H88.8Z" fill="#1b6285" stroke="#0c2638" stroke-width="2" stroke-linejoin="miter"/></svg>
<span class="t" style="top:843.2px;font-size:17.50px;color:#555;font-style:italic;left:485.5px;transform:scaleX(1.1000);">Smartsheet Inc. © 2024</span></div><div class="bd"></div></div>
<div class="card " style="left:1389.5px;top:1886px;width:1136.5px;height:514px"><div class="in"><span class="t" style="top:12.1px;font-size:48.55px;color:#0a1733;font-weight:700;left:15.5px;transform:scaleX(0.8923);">Project Plan Template</span>
<div class="r" style="left:27.8px;top:82.9px;width:502.2px;height:30.4px;background:#fff;border:1px solid #c4c4c4;"></div>
<div class="r" style="left:27.8px;top:82.9px;width:84.7px;height:30.4px;background:#f2f3f2;border:1px solid #c4c4c4;"></div>
<div class="r" style="left:27.8px;top:98.0px;width:502.2px;height:1.0px;background:#c4c4c4;"></div>
<span class="t" style="top:86.8px;font-size:7.60px;color:#333;font-weight:700;left:32.0px;transform:scaleX(1.0458);">Project Name</span>
<span class="t" style="top:102.0px;font-size:7.60px;color:#333;font-weight:700;left:31.9px;transform:scaleX(1.0824);">Date</span>
<span class="t" style="top:86.8px;font-size:7.60px;color:#777;left:115.8px;transform:scaleX(1.1910);">Name</span>
<span class="t" style="top:102.0px;font-size:7.60px;color:#777;left:115.8px;transform:scaleX(1.1018);">MM/DD/YY</span>
<span class="t" style="top:127.3px;font-size:16.50px;color:#2b7a9b;left:26.4px;transform:scaleX(1.0293);">Project Overview</span>
<div class="r" style="left:27.8px;top:147.4px;width:502.2px;height:86.6px;border:1px solid #c4c4c4;"></div>
<span class="t" style="top:152.1px;font-size:7.80px;color:#666;left:31.6px;transform:scaleX(1.0884);">Overview</span>
<span class="t" style="top:18.8px;font-size:17.50px;color:#2b7a9b;left:570.9px;transform:scaleX(0.9924);">4.</span>
<span class="t" style="top:18.8px;font-size:17.50px;color:#2b7a9b;left:595.2px;transform:scaleX(0.9864);">Scope Target</span>
<span class="t" style="top:42.9px;font-size:7.80px;color:#1f6080;font-weight:700;font-style:italic;left:571.2px;">Project Scope Statement</span>
<div class="r" style="left:570.5px;top:52.6px;width:507.4px;height:59.7px;border:1px solid #c4c4c4;"></div>
<span class="t" style="top:57.8px;font-size:8.00px;color:#666;left:574.3px;transform:scaleX(1.0708);">Define what is in and out of scope</span>
<div class="r" style="left:570.5px;top:126.6px;width:507.4px;height:40.9px;border:1px solid #c4c4c4;"></div>
<div class="r" style="left:570.5px;top:126.6px;width:149.3px;height:20.7px;background:#f2f2f2;border:1px solid #c4c4c4;"></div>
<div class="r" style="left:570.5px;top:147.3px;width:149.3px;height:20.2px;background:#d4d4d4;border:1px solid #c4c4c4;"></div>
<div class="r" style="left:570.5px;top:147.3px;width:507.4px;height:1.0px;background:#c4c4c4;"></div>
<span class="t" style="top:133.4px;font-size:8.00px;color:#555;left:574.6px;transform:scaleX(1.0516);">Deliverable 1</span>
<span class="t" style="top:154.0px;font-size:8.00px;color:#555;left:574.6px;transform:scaleX(1.0737);">Deliverable 2</span>
<span class="t" style="top:133.4px;font-size:8.00px;color:#555;left:723.1px;transform:scaleX(1.0757);">Description and Scope</span>
<span class="t" style="top:154.0px;font-size:8.00px;color:#555;left:723.1px;transform:scaleX(1.0757);">Description and Scope</span>
<div class="r" style="left:570.5px;top:182.6px;width:507.4px;height:16.3px;border:1px solid #c4c4c4;"></div>
<div class="r" style="left:570.5px;top:249.0px;width:507.4px;height:81.4px;border:1px solid #c4c4c4;"></div>
<div class="r" style="left:570.5px;top:275.5px;width:507.4px;height:1.0px;background:#c4c4c4;"></div>
<div class="r" style="left:570.5px;top:303.5px;width:507.4px;height:1.0px;background:#c4c4c4;"></div>
<div class="r" style="left:570.5px;top:377.0px;width:507.4px;height:27.0px;background:#cfd35c;"></div></div><div class="bd"></div></div>
<div class="card " style="left:1290.5px;top:2069px;width:1132px;height:847px"><div class="in"><span class="t" style="top:12.2px;font-size:47.97px;color:#0a1733;font-weight:700;left:14.2px;transform:scaleX(0.9101);">Stage Plan Template</span>
<div class="r" style="left:31.5px;top:87.0px;width:498.0px;height:174.0px;border:1px solid #c4c4c4;"></div>
<div class="r" style="left:31.5px;top:87.0px;width:248.4px;height:29.0px;background:#3d7f3f;"></div>
<div class="r" style="left:31.5px;top:116.0px;width:498.0px;height:1.0px;background:#c4c4c4;"></div>
<div class="r" style="left:31.5px;top:115.0px;width:248.4px;height:1.0px;background:#7fae80;"></div>
<span class="t" style="top:95.3px;font-size:13.40px;color:#fff;font-weight:700;left:41.5px;transform:scaleX(1.1388);">Project Name</span>
<span class="t" style="top:94.8px;font-size:13.40px;color:#333;left:290.2px;transform:scaleX(1.1454);">Name</span>
<div class="r" style="left:31.5px;top:116.0px;width:248.4px;height:29.0px;background:#3d7f3f;"></div>
<div class="r" style="left:31.5px;top:145.0px;width:498.0px;height:1.0px;background:#c4c4c4;"></div>
<div class="r" style="left:31.5px;top:144.0px;width:248.4px;height:1.0px;background:#7fae80;"></div>
<span class="t" style="top:124.3px;font-size:13.40px;color:#fff;font-weight:700;left:41.4px;transform:scaleX(1.1917);">Date</span>
<span class="t" style="top:123.8px;font-size:13.40px;color:#333;left:290.4px;transform:scaleX(1.0365);">MM/DD/YY</span>
<div class="r" style="left:31.5px;top:145.0px;width:248.4px;height:29.0px;background:#3d7f3f;"></div>
<div class="r" style="left:31.5px;top:174.0px;width:498.0px;height:1.0px;background:#c4c4c4;"></div>
<div class="r" style="left:31.5px;top:173.0px;width:248.4px;height:1.0px;background:#7fae80;"></div>
<span class="t" style="top:153.3px;font-size:13.40px;color:#fff;font-weight:700;left:41.5px;transform:scaleX(1.0796);">Project Stage</span>
<span class="t" style="top:152.8px;font-size:13.40px;color:#333;left:290.8px;transform:scaleX(1.0942);">Stage</span>
<div class="r" style="left:31.5px;top:174.0px;width:248.4px;height:29.0px;background:#3d7f3f;"></div>
<div class="r" style="left:31.5px;top:203.0px;width:498.0px;height:1.0px;background:#c4c4c4;"></div>
<div class="r" style="left:31.5px;top:202.0px;width:248.4px;height:1.0px;background:#7fae80;"></div>
<span class="t" style="top:182.3px;font-size:13.40px;color:#fff;font-weight:700;left:41.5px;transform:scaleX(1.0663);">Project Manager</span>
<span class="t" style="top:181.8px;font-size:13.40px;color:#333;left:290.2px;transform:scaleX(1.1454);">Name</span>
<div class="r" style="left:31.5px;top:203.0px;width:248.4px;height:29.0px;background:#3d7f3f;"></div>
<div class="r" style="left:31.5px;top:232.0px;width:498.0px;height:1.0px;background:#c4c4c4;"></div>
<div class="r" style="left:31.5px;top:231.0px;width:248.4px;height:1.0px;background:#7fae80;"></div>
<span class="t" style="top:211.3px;font-size:13.40px;color:#fff;font-weight:700;left:42.1px;transform:scaleX(1.1112);">Stage Start</span>
<span class="t" style="top:210.8px;font-size:13.40px;color:#333;left:290.4px;transform:scaleX(1.0365);">MM/DD/YY</span>
<div class="r" style="left:31.5px;top:232.0px;width:248.4px;height:29.0px;background:#3d7f3f;"></div>
<div class="r" style="left:31.5px;top:261.0px;width:498.0px;height:1.0px;background:#c4c4c4;"></div>
<div class="r" style="left:31.5px;top:260.0px;width:248.4px;height:1.0px;background:#7fae80;"></div>
<span class="t" style="top:240.3px;font-size:13.40px;color:#fff;font-weight:700;left:42.1px;transform:scaleX(1.0894);">Stage End</span>
<span class="t" style="top:239.8px;font-size:13.40px;color:#333;left:290.4px;transform:scaleX(1.0365);">MM/DD/YY</span>
<div class="r" style="left:279.9px;top:87.0px;width:1.0px;height:174.0px;background:#c4c4c4;"></div>
<div class="r" style="left:31.5px;top:265.0px;width:1058.0px;height:28.0px;background:#dcebdd;"></div>
<span class="t" style="top:272.7px;font-size:12.50px;color:#6a9a6c;left:415.2px;transform:scaleX(1.0800);">Prerequisites</span>
<div class="r" style="left:31.5px;top:510.6px;width:1058.0px;height:25.8px;background:#dcebdd;"></div>
<span class="t" style="top:517.2px;font-size:12.50px;color:#6a9a6c;left:454.3px;transform:scaleX(1.1200);">Quality</span>
<div class="r" style="left:31.5px;top:661.0px;width:1058.0px;height:25.0px;background:#dcebdd;"></div>
<div class="r" style="left:31.5px;top:312.0px;width:1058.0px;height:1.0px;background:#d6d6d6;"></div>
<div class="r" style="left:31.5px;top:331.0px;width:1058.0px;height:1.0px;background:#d6d6d6;"></div>
<div class="r" style="left:31.5px;top:350.0px;width:1058.0px;height:1.0px;background:#d6d6d6;"></div>
<div class="r" style="left:31.5px;top:369.0px;width:1058.0px;height:1.0px;background:#d6d6d6;"></div>
<div class="r" style="left:31.5px;top:393.0px;width:1058.0px;height:1.0px;background:#d6d6d6;"></div>
<div class="r" style="left:31.5px;top:412.0px;width:1058.0px;height:1.0px;background:#d6d6d6;"></div>
<div class="r" style="left:31.5px;top:431.6px;width:1058.0px;height:1.0px;background:#d6d6d6;"></div>
<div class="r" style="left:31.5px;top:451.0px;width:1058.0px;height:1.0px;background:#d6d6d6;"></div>
<div class="r" style="left:31.5px;top:470.0px;width:1058.0px;height:1.0px;background:#d6d6d6;"></div>
<div class="r" style="left:31.5px;top:489.0px;width:1058.0px;height:1.0px;background:#d6d6d6;"></div>
<div class="r" style="left:31.5px;top:555.7px;width:1058.0px;height:1.0px;background:#d6d6d6;"></div>
<div class="r" style="left:31.5px;top:575.0px;width:1058.0px;height:1.0px;background:#d6d6d6;"></div>
<div class="r" style="left:31.5px;top:594.6px;width:1058.0px;height:1.0px;background:#d6d6d6;"></div>
<div class="r" style="left:31.5px;top:613.9px;width:1058.0px;height:1.0px;background:#d6d6d6;"></div>
<div class="r" style="left:31.5px;top:633.0px;width:1058.0px;height:1.0px;background:#d6d6d6;"></div>
<div class="r" style="left:31.5px;top:706.0px;width:1058.0px;height:1.0px;background:#d6d6d6;"></div>
<div class="r" style="left:31.5px;top:725.6px;width:1058.0px;height:1.0px;background:#d6d6d6;"></div>
<div class="r" style="left:31.5px;top:744.9px;width:1058.0px;height:1.0px;background:#d6d6d6;"></div>
<div class="r" style="left:31.5px;top:764.0px;width:1058.0px;height:1.0px;background:#d6d6d6;"></div>
<div class="r" style="left:31.5px;top:783.4px;width:1058.0px;height:1.0px;background:#d6d6d6;"></div>
<div class="r" style="left:31.5px;top:802.7px;width:1058.0px;height:1.0px;background:#d6d6d6;"></div>
<div class="r" style="left:31.5px;top:646.2px;width:1058.0px;height:0;border-top:1.6px dashed #4c9a4c"></div>
<span class="t" style="top:816.7px;font-size:17.50px;color:#444;font-style:italic;left:470.7px;transform:scaleX(1.1000);">Smartsheet Inc. © 2024</span></div><div class="bd"></div></div>
<div class="card " style="left:674.5px;top:2236px;width:1069px;height:774px"><div class="in"><span class="t" style="top:13.6px;font-size:39.24px;color:#0a1733;font-weight:700;left:18.5px;transform:scaleX(0.8672);">Starting Up a Project Checklist</span>
<div class="r" style="left:28.1px;top:75.0px;width:36.2px;height:37.6px;background:#fff;border:1px solid #b5b5b5;"></div>
<div class="r" style="left:81.1px;top:75.0px;width:935.2px;height:98.0px;border:1px solid #c4c4c4;"></div>
<div class="r" style="left:81.1px;top:75.0px;width:935.2px;height:37.6px;background:#d2de55;"></div>
<span class="t" style="top:80.2px;font-size:30.23px;color:#2b2b2b;left:87.7px;transform:scaleX(1.1094);">Project Mandate</span>
<span class="t" style="top:140.1px;font-size:14.30px;color:#303030;left:88.8px;transform:scaleX(1.0819);">Outline why the project is necessary and its desired goal or outcome.</span>
<div class="r" style="left:28.1px;top:218.0px;width:36.2px;height:38.0px;background:#fff;border:1px solid #b5b5b5;"></div>
<div class="r" style="left:81.1px;top:218.0px;width:935.2px;height:98.0px;border:1px solid #c4c4c4;"></div>
<div class="r" style="left:81.1px;top:218.0px;width:935.2px;height:38.0px;background:#d2de55;"></div>
<span class="t" style="top:223.6px;font-size:30.23px;color:#2b2b2b;left:88.1px;transform:scaleX(0.9806);">Business Case</span>
<span class="t" style="top:283.3px;font-size:14.30px;color:#303030;left:88.2px;transform:scaleX(1.0759);">Evaluate the benefits, costs, and risks of the project to the organization.</span>
<div class="r" style="left:28.1px;top:358.8px;width:36.2px;height:38.2px;background:#fff;border:1px solid #b5b5b5;"></div>
<div class="r" style="left:81.1px;top:358.8px;width:935.2px;height:98.2px;border:1px solid #c4c4c4;"></div>
<div class="r" style="left:81.1px;top:358.8px;width:935.2px;height:38.2px;background:#d2de55;"></div>
<span class="t" style="top:364.6px;font-size:30.23px;color:#2b2b2b;left:87.9px;transform:scaleX(1.0534);">List of Appointed Roles</span>
<span class="t" style="top:424.3px;font-size:14.30px;color:#303030;left:88.2px;transform:scaleX(1.0674);">Document roles and responsibilities, owners of various tasks, and who will comprise the project team.</span>
<div class="r" style="left:28.1px;top:502.0px;width:36.2px;height:37.8px;background:#fff;border:1px solid #b5b5b5;"></div>
<div class="r" style="left:81.1px;top:502.0px;width:668.4px;height:97.0px;border:1px solid #c4c4c4;"></div>
<div class="r" style="left:81.1px;top:502.0px;width:668.4px;height:37.8px;background:#d2de55;"></div>
<span class="t" style="top:507.4px;font-size:30.23px;color:#2b2b2b;left:87.5px;transform:scaleX(1.0637);">Initiation Stage Plan</span>
<span class="t" style="top:566.7px;font-size:14.30px;color:#303030;left:88.2px;transform:scaleX(1.0826);">Ensure that the initiation stage of the project is focused and structured.</span>
<svg class="r" style="left:765.5px;top:484.0px" width="300" height="290" viewBox="0 0 1764 1705"><path d="M340 1420Q760 1400 1440 1418Q760 1436 340 1420Z" fill="#d2d2d2"/><path d="M765 1420Q560 1540 220 1660L370 1660Q620 1540 765 1420Z" fill="#d0d0d0"/><path d="M765 1420Q940 1540 1090 1660L1230 1660Q960 1510 765 1420Z" fill="#d0d0d0"/><path d="M155 690Q405 920 765 1422Q1155 650 1570 123Q1180 560 750 1310Q470 900 155 690Z" fill="#489040"/><path d="M160 690Q470 700 705 900Q1130 440 1567 124Q1180 520 750 1305Q500 930 160 690Z" fill="#d2de52"/></svg></div><div class="bd"></div></div>
<div class="card " style="left:1784.5px;top:2277.5px;width:815.5px;height:732.5px"><div class="in"><span class="t" style="top:12.8px;font-size:44.33px;color:#0a1733;font-weight:700;left:15.0px;transform:scaleX(0.9509);">Project Mandate Template</span>
<span class="t" style="top:69.0px;font-size:14.40px;color:#1f6080;font-weight:700;left:25.1px;transform:scaleX(1.0731);">Summary / Background</span>
<div class="r" style="left:24.9px;top:88.1px;width:790.6px;height:30.6px;border:1px solid #c4c4c4;"></div>
<span class="t" style="top:143.3px;font-size:14.40px;color:#1f6080;font-weight:700;left:24.5px;transform:scaleX(1.0636);">Project Objectives</span>
<div class="r" style="left:24.9px;top:162.9px;width:790.6px;height:32.0px;border:1px solid #c4c4c4;"></div>
<div class="r" style="left:165.5px;top:216.5px;width:650.0px;height:32.0px;background:#eeea90;border:1px solid #c4c4c4;"></div>
<span class="t" style="top:226.0px;font-size:13.60px;color:#1f6080;font-weight:700;left:172.5px;transform:scaleX(1.1196);">Performance Goals</span>
<div class="r" style="left:24.9px;top:248.5px;width:140.6px;height:195.0px;background:#f7f6cc;border:1px solid #c4c4c4;"></div>
<div class="r" style="left:165.5px;top:248.5px;width:650.0px;height:195.0px;border:1px solid #c4c4c4;"></div>
<div class="r" style="left:24.9px;top:281.5px;width:790.6px;height:1.0px;background:#c4c4c4;"></div>
<div class="r" style="left:24.9px;top:313.5px;width:790.6px;height:1.0px;background:#c4c4c4;"></div>
<div class="r" style="left:24.9px;top:345.5px;width:790.6px;height:1.0px;background:#c4c4c4;"></div>
<div class="r" style="left:24.9px;top:378.0px;width:790.6px;height:1.0px;background:#c4c4c4;"></div>
<div class="r" style="left:24.9px;top:410.5px;width:790.6px;height:1.0px;background:#c4c4c4;"></div>
<span class="t" style="top:258.0px;font-size:15.00px;color:#333;left:126.7px;transform:scaleX(1.0071);">Time</span>
<span class="t" style="top:290.5px;font-size:15.00px;color:#333;left:126.2px;transform:scaleX(1.0677);">Cost</span>
<span class="t" style="top:322.5px;font-size:15.00px;color:#333;left:107.2px;transform:scaleX(1.1100);">Quality</span>
<span class="t" style="top:354.7px;font-size:15.00px;color:#333;left:111.2px;transform:scaleX(1.1412);">Scope</span>
<span class="t" style="top:387.2px;font-size:15.00px;color:#333;left:126.9px;transform:scaleX(0.8884);">Risks</span>
<span class="t" style="top:420.0px;font-size:15.00px;color:#333;left:101.7px;transform:scaleX(1.0681);">Benefits</span>
<span class="t" style="top:456.7px;font-size:14.40px;color:#1f6080;font-weight:700;left:24.5px;transform:scaleX(1.0601);">Project Outcomes</span>
<div class="r" style="left:24.9px;top:475.8px;width:790.6px;height:75.7px;border:1px solid #c4c4c4;"></div>
<div class="r" style="left:24.9px;top:475.8px;width:790.6px;height:32.5px;background:#f7f6cc;border:1px solid #c4c4c4;"></div>
<div class="r" style="left:390.0px;top:475.8px;width:1.0px;height:75.7px;background:#c4c4c4;"></div>
<span class="t" style="top:485.0px;font-size:15.00px;color:#333;left:32.2px;transform:scaleX(1.0821);">Goals</span>
<span class="t" style="top:485.0px;font-size:15.00px;color:#333;left:396.6px;transform:scaleX(1.0981);">Performance Metrics</span>
<span class="t" style="top:576.7px;font-size:14.40px;color:#1f6080;font-weight:700;left:24.5px;transform:scaleX(1.0573);">Project Scope</span>
<div class="r" style="left:24.9px;top:594.9px;width:790.6px;height:75.3px;border:1px solid #c4c4c4;"></div>
<div class="r" style="left:24.9px;top:594.9px;width:790.6px;height:32.4px;background:#f7f6cc;border:1px solid #c4c4c4;"></div>
<div class="r" style="left:390.0px;top:594.9px;width:1.0px;height:75.3px;background:#c4c4c4;"></div>
<span class="t" style="top:604.0px;font-size:15.00px;color:#333;left:32.2px;transform:scaleX(1.1169);">Scope</span>
<span class="t" style="top:604.0px;font-size:15.00px;color:#333;left:396.8px;">Exclusions</span>
<div class="r" style="left:24.9px;top:692.5px;width:790.6px;height:40.0px;background:#f7f6cc;border:1px solid #c4c4c4;"></div>
<div class="r" style="left:549.1px;top:692.5px;width:1.0px;height:40.0px;background:#c4c4c4;"></div>
<span class="t" style="top:702.0px;font-size:15.00px;color:#333;left:32.2px;transform:scaleX(1.0595);">Constraints</span>
<span class="t" style="top:702.0px;font-size:15.00px;color:#333;left:557.5px;transform:scaleX(1.0451);">Assumptions / Givens</span></div><div class="bd"></div></div>
</div></body></html>
